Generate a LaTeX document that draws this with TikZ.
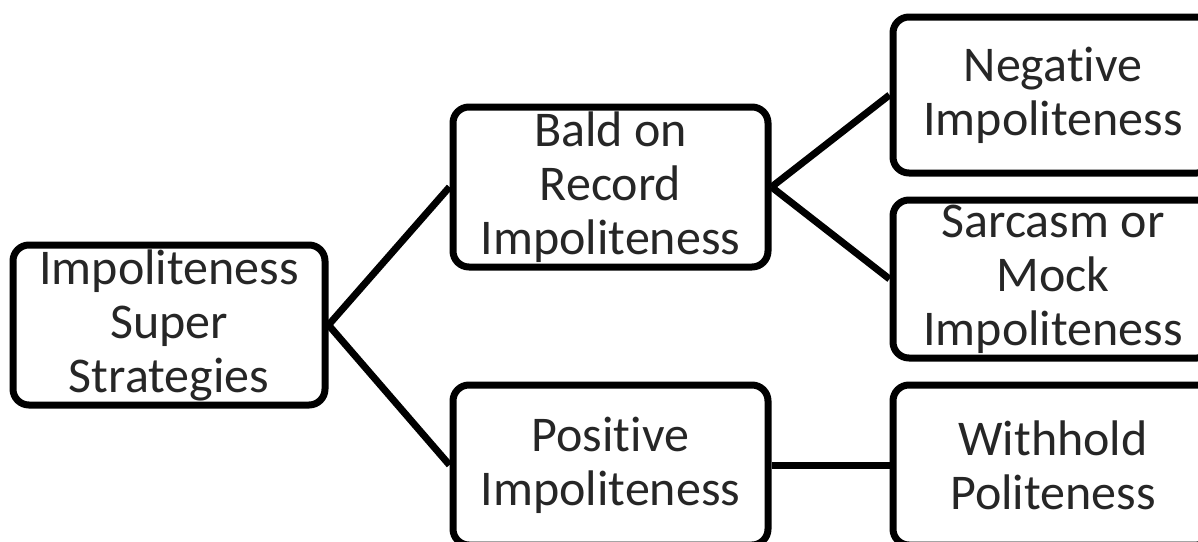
\documentclass[tikz,border=0pt]{standalone}
\usepackage{fontspec}
\setmainfont[Ligatures={NoCommon}]{Carlito}
\begin{document}
\begin{tikzpicture}[x=1pt,y=-1pt,
  box/.style={draw=black, line width=7pt, rounded corners=16pt, fill=white,
    align=center, inner sep=0pt, font=\fontsize{50}{54}\selectfont,
    text=black!85, minimum width=#1},
  box/.default=315pt,
  link/.style={draw=black, line width=7pt}]
\useasboundingbox (0,0) rectangle (1198,541);
\clip (0,0) rectangle (1198,541);
\node[box=312pt, minimum height=160pt] (L) at (169,325) {Impoliteness\\Super\\Strategies};
\node[box, minimum height=160pt] (B) at (610.5,187) {Bald on\\Record\\Impoliteness};
\node[box, minimum height=160pt] (P) at (610.5,465) {Positive\\Impoliteness};
\node[box=320pt, minimum height=156pt] (N) at (1053,95) {Negative\\Impoliteness};
\node[box=320pt, minimum height=158pt] (S) at (1053,279) {Sarcasm or\\Mock\\Impoliteness};
\node[box=320pt, minimum height=160pt] (W) at (1053,465) {Withhold\\Politeness};
\draw[link] (L.east) -- (B.west);
\draw[link] (L.east) -- (P.west);
\draw[link] (B.east) -- (N.west);
\draw[link] (B.east) -- (S.west);
\draw[link] (P.east) -- (W.west);
\end{tikzpicture}
\end{document}
